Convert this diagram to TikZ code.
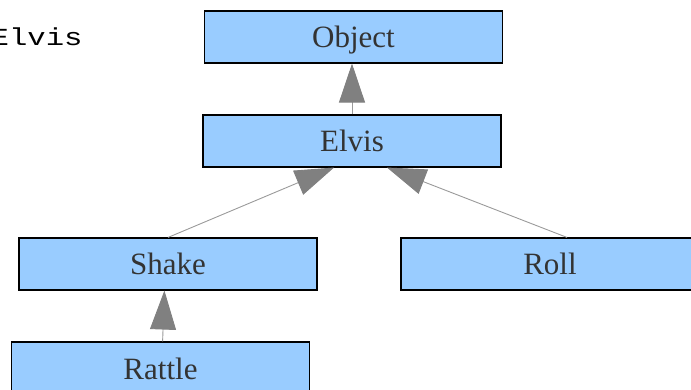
\documentclass[tikz,border=0pt]{standalone}
\usepackage{fontspec}
\setmainfont{Liberation Serif}
\newfontfamily\monofont{Liberation Mono}
\usepackage{xcolor}
\usetikzlibrary{calc,arrows.meta,positioning}
\definecolor{boxblue}{HTML}{99CCFF}
\definecolor{textgray}{HTML}{333333}
\definecolor{tipgray}{HTML}{808080}
\definecolor{linegray}{HTML}{9A9A9A}

\begin{document}
\begin{tikzpicture}[x=1pt,y=-1pt,
    class/.style={draw=black,line width=1.1pt,fill=boxblue,text=textgray,
      minimum width=298pt,minimum height=52pt,inner sep=0pt,
      text height=22pt,text depth=0pt,
      font=\fontsize{31}{36}\selectfont},
    inherit/.style={draw=linegray,line width=0.9pt,
      -{Triangle[length=39pt,width=26pt,color=tipgray]}}]
            \useasboundingbox (0,0) rectangle (691,390);
            \clip (0,0) rectangle (691,390);
            \node [anchor=base west,inner sep=0pt] (title) at (-9.5,45.5) {\scalebox{1.25}[1]{\fontsize{24.5}{28}\monofont Elvis}};
            \node [class] (object) at (353.5,37) {Object};
            \node [class] (elvis) at (352,141) {Elvis};
            \node [class] (shake) at (168,264) {Shake};
            \node [class] (roll) at (550,264) {Roll};
            \node [class] (rattle) at (160.5,368) {Rattle};
            \draw [inherit] (elvis.north) -- (elvis.north |- object.south);
            \draw [inherit] (shake.north) -- ($(elvis.south west)!0.44!(elvis.south east)$);
            \draw [inherit] ($(roll.north west)!0.557!(roll.north east)$) -- ($(elvis.south west)!0.617!(elvis.south east)$);
            \draw [inherit] ($(rattle.north west)!0.507!(rattle.north east)$) -- ($(shake.south west)!0.488!(shake.south east)$);
\end{tikzpicture}
\end{document}
